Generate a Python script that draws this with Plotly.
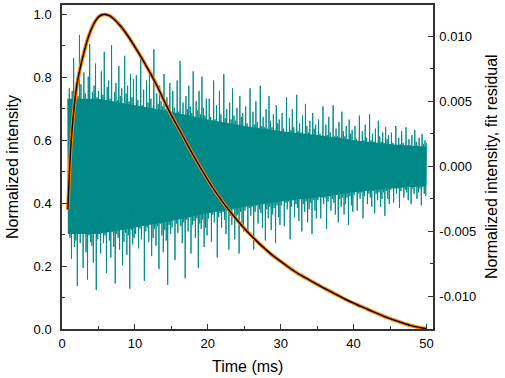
import plotly.graph_objects as go

# ---- Intensity decay (measured data & fit coincide) ----
curve_t = [0.8, 1.0, 1.25, 1.5, 2.0, 2.5, 3.0, 3.5, 4.0, 4.5, 5.0, 5.5, 6.0, 6.5, 7.0,
           8.0, 9.0, 10.0, 11.0, 12.0, 13.0, 14.0, 15.0, 16.0, 17.0, 18.0, 19.0, 20.0,
           21.0, 22.0, 23.0, 24.0, 25.0, 26.0, 27.0, 28.0, 29.0, 30.0, 31.0, 32.0, 33.0,
           34.0, 35.0, 36.0, 37.0, 38.0, 39.0, 40.0, 41.0, 42.0, 43.0, 44.0, 45.0, 46.0,
           47.0, 48.0, 49.0, 50.0]
curve_i = [0.38, 0.49, 0.595, 0.665, 0.77, 0.83, 0.878, 0.92, 0.952, 0.976, 0.992, 0.999,
           1.0, 0.996, 0.988, 0.964, 0.933, 0.897, 0.859, 0.818, 0.775, 0.726, 0.68, 0.638,
           0.595, 0.553, 0.513, 0.474, 0.438, 0.405, 0.375, 0.347, 0.32, 0.296, 0.273,
           0.252, 0.232, 0.215, 0.198, 0.182, 0.168, 0.155, 0.142, 0.129, 0.117, 0.105,
           0.093, 0.082, 0.072, 0.062, 0.052, 0.042, 0.033, 0.025, 0.017, 0.010, 0.005,
           0.001]

# ---- Fit residual (units of 1e-4), sampled every 0.1 ms from 0.8 ms ----
resid_start = 0.8
resid_step = 0.1
resid_e4 = [
    # 0.8 - 4.9 ms
    52, -48, 60, -55, 47, -71, 58, -50, 83, -62, 49, -57, 66, -92, 54, -46, 101, -59, 63, -52,
    50, -78, 72, -49, 56, -66, 48, -87, 69, -53, 94, -58, 51, -61, 57, -74, 62, -50, 79, -95, 53, -56,
    # 5.0 - 9.9 ms
    58, -51, 47, -67, 73, -49, 55, -59, 88, -53, 50, -82, 61, -48, 66, -57, 52, -70, 93, -50,
    49, -62, 57, -90, 64, -52, 51, -55, 77, -64, 54, -48, 60, -76, 48, -58, 85, -51, 56, -68,
    62, -53, 50, -94, 71, -49, 53, -60, 67, -55,
    # 10.0 - 14.9 ms
    46, -52, 70, -44, 51, -63, 42, -48, 84, -56, 47, -45, 59, -88, 44, -50, 66, -47, 49, -58,
    75, -43, 52, -69, 45, -55, 90, -48, 43, -61, 56, -46, 48, -79, 62, -44, 50, -53, 46, -66,
    71, -49, 44, -57, 53, -91, 47, -45, 64, -52,
    # 15.0 - 19.9 ms
    41, -47, 58, -40, 45, -72, 39, -44, 66, -51, 42, -38, 81, -46, 40, -59, 49, -43, 37, -86,
    54, -41, 44, -50, 62, -39, 46, -67, 41, -45, 73, -42, 38, -55, 50, -40, 43, -78, 58, -44,
    40, -48, 69, -41, 45, -62, 39, -47, 52, -53,
    # 20.0 - 24.9 ms
    35, -40, 52, -34, 38, -58, 33, -37, 66, -43, 36, -32, 47, -70, 34, -39, 58, -36, 40, -47,
    31, -35, 71, -41, 37, -52, 44, -34, 33, -64, 49, -38, 36, -45, 60, -33, 39, -56, 35, -42,
    45, -37, 32, -67, 54, -35, 38, -44, 41, -50,
    # 25.0 - 29.9 ms
    31, -34, 46, -29, 33, -51, 30, -32, 60, -38, 28, -31, 42, -64, 32, -35, 50, -30, 34, -44,
    27, -33, 62, -36, 31, -47, 38, -29, 30, -57, 44, -33, 29, -40, 54, -31, 35, -49, 30, -37,
    40, -32, 28, -59, 47, -30, 33, -39, 36, -45,
    # 30.0 - 34.9 ms
    27, -30, 41, -26, 29, -46, 26, -28, 53, -33, 25, -27, 37, -56, 28, -31, 44, -26, 30, -39,
    24, -29, 55, -32, 27, -42, 33, -25, 26, -50, 39, -29, 25, -35, 48, -27, 31, -43, 26, -33,
    35, -28, 24, -52, 41, -26, 29, -34, 32, -40,
    # 35.0 - 39.9 ms
    24, -26, 36, -23, 25, -40, 22, -24, 46, -29, 22, -24, 32, -48, 24, -27, 38, -23, 26, -34,
    21, -25, 47, -28, 23, -37, 29, -22, 23, -43, 34, -25, 22, -31, 42, -24, 27, -37, 23, -29,
    31, -24, 21, -45, 36, -23, 25, -30, 28, -35,
    # 40.0 - 44.9 ms
    20, -22, 31, -19, 21, -34, 19, -21, 39, -25, 18, -20, 27, -40, 20, -23, 32, -19, 22, -29,
    18, -21, 40, -24, 20, -31, 25, -19, 19, -36, 29, -21, 18, -26, 35, -20, 23, -31, 19, -25,
    26, -20, 18, -38, 30, -19, 21, -25, 24, -29,
    # 45.0 - 50.0 ms
    17, -18, 26, -16, 18, -28, 15, -17, 31, -21, 15, -17, 22, -32, 17, -19, 27, -16, 18, -24,
    15, -18, 30, -20, 16, -26, 21, -15, 16, -29, 24, -17, 15, -21, 28, -16, 19, -25, 16, -20,
    22, -17, 15, -30, 25, -16, 17, -21, 20, -23, 18,
]
# dense core of the residual band (units of 1e-4), read every 5 ms
core_t = [0.8, 5, 10, 15, 20, 25, 30, 35, 40, 45, 50]
core_hi_e4 = [52, 52, 47, 42, 36, 31, 27, 24, 20, 17, 15]
core_lo_e4 = [-52, -52, -47, -42, -36, -31, -27, -24, -20, -17, -15]

resid_t = [resid_start + resid_step * k for k in range(len(resid_e4))]
resid = [v * 1e-4 for v in resid_e4]
core_x = core_t + core_t[::-1]
core_y = [v * 1e-4 for v in core_hi_e4] + [v * 1e-4 for v in core_lo_e4[::-1]]

# ---- Tick labels ----
x_ticks = [0, 10, 20, 30, 40, 50]
left_ticks = [0.0, 0.2, 0.4, 0.6, 0.8, 1.0]
left_ticktext = ["0.0", "0.2", "0.4", "0.6", "0.8", "1.0"]
right_ticks = [-0.010, -0.005, 0.0, 0.005, 0.010]
right_ticktext = ["-0.010", "-0.005", "0.000", "0.005", "0.010"]

FONT = "Liberation Sans, Arial, sans-serif"
AX = "#333333"
TEAL = "#008482"

fig = go.Figure()
fig.add_trace(go.Scatter(x=core_x, y=core_y, mode="lines", yaxis="y", fill="toself",
                         fillcolor=TEAL, line=dict(color=TEAL, width=0),
                         showlegend=False, name="residual core", hoverinfo="skip"))
fig.add_trace(go.Scatter(x=resid_t, y=resid, mode="lines", yaxis="y",
                         line=dict(color="#008A88", width=0.95), showlegend=False,
                         name="fit residual"))
fig.add_trace(go.Scatter(x=curve_t, y=curve_i, mode="lines", yaxis="y2",
                         line=dict(color="#FF8000", width=3.6, shape="spline"),
                         showlegend=False, name="data"))
fig.add_trace(go.Scatter(x=curve_t, y=curve_i, mode="lines", yaxis="y2",
                         line=dict(color="#000000", width=1.4, shape="spline"),
                         showlegend=False, name="fit"))

axis_common = dict(ticks="inside", ticklen=5, tickwidth=1.2, tickcolor=AX,
                   showline=True, linecolor=AX, linewidth=1.5, showgrid=False,
                   zeroline=False, automargin=False, tickfont=dict(size=13))

fig.update_layout(
    width=505, height=378,
    margin=dict(l=62, r=72, t=5, b=49),
    paper_bgcolor="white", plot_bgcolor="white",
    font=dict(family=FONT, size=13, color="#000000"),
    xaxis=dict(range=[0, 50.9], tickvals=x_ticks, mirror=True,
               minor=dict(dtick=5, ticks="inside", ticklen=3, tickcolor=AX, tickwidth=1.2),
               ticklabelstandoff=2, **axis_common),
    yaxis=dict(range=[-0.0125, 0.0124], side="right", tickvals=right_ticks,
               ticktext=right_ticktext,
               minor=dict(dtick=0.0025, ticks="inside", ticklen=3, tickcolor=AX, tickwidth=1.2),
               ticklabelstandoff=2, **axis_common),
    yaxis2=dict(range=[0, 1.03], side="left", overlaying="y", tickvals=left_ticks,
                ticktext=left_ticktext,
                minor=dict(dtick=0.1, ticks="inside", ticklen=3, tickcolor=AX, tickwidth=1.2),
                ticklabelstandoff=6, **axis_common),
    annotations=[
        dict(text="Time (ms)", xref="paper", yref="paper", x=0.5, y=0, yshift=-37,
             xanchor="center", yanchor="middle", showarrow=False, font=dict(size=16)),
        dict(text="Normalized intensity", xref="paper", yref="paper", x=0, y=0.5,
             xshift=-50, xanchor="center", yanchor="middle", textangle=-90,
             showarrow=False, font=dict(size=16)),
        dict(text="Normalized intensity, fit residual", xref="paper", yref="paper",
             x=1, y=0.5, xshift=58, xanchor="center", yanchor="middle", textangle=-90,
             showarrow=False, font=dict(size=16)),
    ],
)

fig.write_html("out.html", config={"displayModeBar": False},
               post_script="document.body.style.margin='0px';")
